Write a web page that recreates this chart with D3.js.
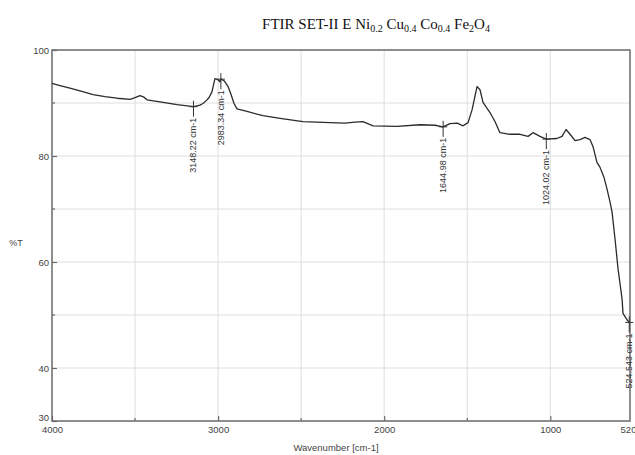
<!DOCTYPE html>
<html>
<head>
<meta charset="utf-8">
<script src="https://cdn.jsdelivr.net/npm/d3@7"></script>
<style>
  html, body { margin: 0; padding: 0; background: #fff; }
  svg { display: block; }
</style>
</head>
<body>
<svg id="chart" width="635" height="455"></svg>
<script>
// FTIR transmittance spectrum, wavenumber (cm-1) vs %T
const wavenumber = [
  4000, 3952, 3892, 3831, 3753, 3681, 3609, 3530, 3500, 3470, 3446, 3428,
  3350, 3247, 3148.22, 3109, 3091, 3073, 3055, 3037, 3019, 3001, 2989,
  2983.34, 2964, 2940, 2922, 2904, 2886, 2826, 2730, 2627, 2489, 2326,
  2236, 2176, 2128, 2067, 1923, 1784, 1694, 1644.98, 1604, 1560, 1525, 1495,
  1471, 1441, 1423, 1405, 1363, 1333, 1303, 1243, 1182, 1134, 1104, 1062,
  1024.02, 960, 929, 905, 881, 851, 821, 791, 761, 743, 719, 701, 677,
  658, 640, 628, 610, 592, 580, 568, 562, 550, 538, 524.543
];
const transmittance = [
  93.7, 93.3, 92.8, 92.3, 91.6, 91.2, 90.9, 90.7, 91.0, 91.4, 91.1, 90.6,
  90.2, 89.7, 89.3, 89.6, 89.9, 90.4, 91.0, 92.1, 94.6, 94.4, 94.0,
  94.5, 94.2, 93.1, 91.6, 89.9, 88.9, 88.4, 87.6, 87.1, 86.5, 86.3,
  86.2, 86.4, 86.5, 85.7, 85.6, 85.9, 85.8, 85.5, 86.1, 86.2, 85.7, 86.3,
  88.7, 93.1, 92.5, 90.1, 88.2, 86.5, 84.4, 84.1, 84.1, 83.7, 84.4, 83.7,
  83.2, 83.3, 83.7, 85.0, 84.1, 82.9, 83.1, 83.5, 83.1, 81.8, 78.8, 77.9, 76.0,
  73.7, 71.3, 69.4, 64.3, 58.7, 55.9, 53.1, 50.3, 49.7, 49.1, 48.6
];

// Peak picks shown on the spectrum
const peakWavenumbers = [3148.22, 2983.34, 1644.98, 1024.02, 524.543];
const peakLabels = ["3148.22 cm-1", "2983.34 cm-1", "1644.98 cm-1", "1024.02 cm-1", "524.543 cm-1"];

const xTickValues = [4000, 3000, 2000, 1000, 520];
const xMinorTicks = [3500, 2500, 1500];
const yTickValues = [100, 80, 60, 40, 30];
const yMinorTicks = [90, 70, 50];

const svg = d3.select("#chart");
const x0 = 52, x1 = 630, y0 = 50, y1 = 421;

const x = d3.scaleLinear().domain([4000, 520]).range([x0, x1]);
const y = d3.scaleLinear().domain([30, 100]).range([y1, y0]);

const axisColor = "#6a6a6a";
const textColor = "#444";
const font = "'Liberation Sans', Arial, sans-serif";

// Grid
const grid = svg.append("g").attr("stroke", "#dedede").attr("stroke-width", 1);
grid.selectAll("line.v").data([3500, 3000, 2500, 2000, 1500, 1000]).enter()
  .append("line").attr("x1", d => x(d)).attr("x2", d => x(d))
  .attr("y1", y0).attr("y2", y1);
grid.selectAll("line.h").data([90, 80, 70, 60, 50, 40]).enter()
  .append("line").attr("x1", x0).attr("x2", x1)
  .attr("y1", d => y(d)).attr("y2", d => y(d));

// Frame
svg.append("rect").attr("x", x0).attr("y", y0)
  .attr("width", x1 - x0).attr("height", y1 - y0)
  .attr("fill", "none").attr("stroke", axisColor).attr("stroke-width", 1.5);

// Y axis
const yAxis = d3.axisLeft(y).tickValues(yTickValues).tickSize(-5).tickPadding(3)
  .tickFormat(d3.format("d"));
const gy = svg.append("g").attr("transform", `translate(${x0},0)`).call(yAxis);
gy.select(".domain").remove();
gy.selectAll(".tick line").attr("stroke", axisColor).attr("stroke-width", 1.2);
gy.selectAll(".tick text").attr("fill", textColor).style("font-family", font)
  .style("font-size", "9.5px").attr("x", -3);
gy.selectAll(".tick").filter(d => d === 30).select("text").attr("dy", "-0.05em");
svg.append("g").selectAll("line").data(yMinorTicks).enter().append("line")
  .attr("x1", x0).attr("x2", x0 + 3)
  .attr("y1", d => y(d)).attr("y2", d => y(d))
  .attr("stroke", axisColor).attr("stroke-width", 1.2);

// X axis
const xAxis = d3.axisBottom(x).tickValues(xTickValues).tickSize(-5).tickPadding(5)
  .tickFormat(d3.format("d"));
const gx = svg.append("g").attr("transform", `translate(0,${y1})`).call(xAxis);
gx.select(".domain").remove();
gx.selectAll(".tick line").attr("stroke", axisColor).attr("stroke-width", 1.2);
gx.selectAll(".tick").filter(d => d === 520).select("line").remove();
gx.selectAll(".tick text").attr("fill", textColor).style("font-family", font)
  .style("font-size", "9.5px");
gx.selectAll(".tick").filter(d => d === 520).select("text").attr("x", -2);
svg.append("g").selectAll("line").data(xMinorTicks).enter().append("line")
  .attr("x1", d => x(d)).attr("x2", d => x(d))
  .attr("y1", y1).attr("y2", y1 - 3)
  .attr("stroke", axisColor).attr("stroke-width", 1.2);

// Axis titles
svg.append("text").attr("x", 336).attr("y", 451)
  .attr("text-anchor", "middle").attr("fill", textColor)
  .style("font-family", font).style("font-size", "9.5px")
  .text("Wavenumber [cm-1]");
svg.append("text").attr("x", 16).attr("y", 246)
  .attr("text-anchor", "middle").attr("fill", textColor)
  .style("font-family", font).style("font-size", "9px")
  .text("%T");

// Title with chemical subscripts
const title = svg.append("text").attr("x", 376).attr("y", 29)
  .attr("text-anchor", "middle").attr("fill", "#111")
  .style("font-family", "'Liberation Serif', 'Times New Roman', serif")
  .style("font-size", "15px");
const titleParts = [
  ["FTIR SET-II E Ni", false], ["0.2", true], [" Cu", false], ["0.4", true],
  [" Co", false], ["0.4", true], [" Fe", false], ["2", true], ["O", false], ["4", true]
];
titleParts.forEach(([t, sub], i) => {
  const s = title.append("tspan").text(t);
  if (sub) s.style("font-size", "10px").attr("dy", "3");
  else s.attr("dy", i > 0 ? "-3" : "0");
});

// Spectrum
const pts = wavenumber.map((w, i) => [w, transmittance[i]]);
const line = d3.line().x(d => x(d[0])).y(d => y(d[1]));
svg.append("path").datum(pts).attr("d", line)
  .attr("fill", "none").attr("stroke", "#2b2b2b").attr("stroke-width", 1.3)
  .attr("stroke-linejoin", "round");

// Peak markers: cross on the curve and a vertical label below it
const valueAt = w => transmittance[wavenumber.indexOf(w)];
const marks = svg.append("g");
peakWavenumbers.forEach((w, i) => {
  const px = x(w), py = y(valueAt(w));
  marks.append("line").attr("x1", px - 4).attr("x2", px + 4)
    .attr("y1", py).attr("y2", py).attr("stroke", "#333").attr("stroke-width", 1);
  marks.append("line").attr("x1", px).attr("x2", px)
    .attr("y1", py - 6).attr("y2", py + 10).attr("stroke", "#333").attr("stroke-width", 1);
  marks.append("text")
    .attr("transform", `translate(${px + 3},${py + 11}) rotate(-90)`)
    .attr("text-anchor", "end").attr("fill", "#333")
    .style("font-family", font).style("font-size", "9px")
    .text(peakLabels[i]);
});
</script>
</body>
</html>
